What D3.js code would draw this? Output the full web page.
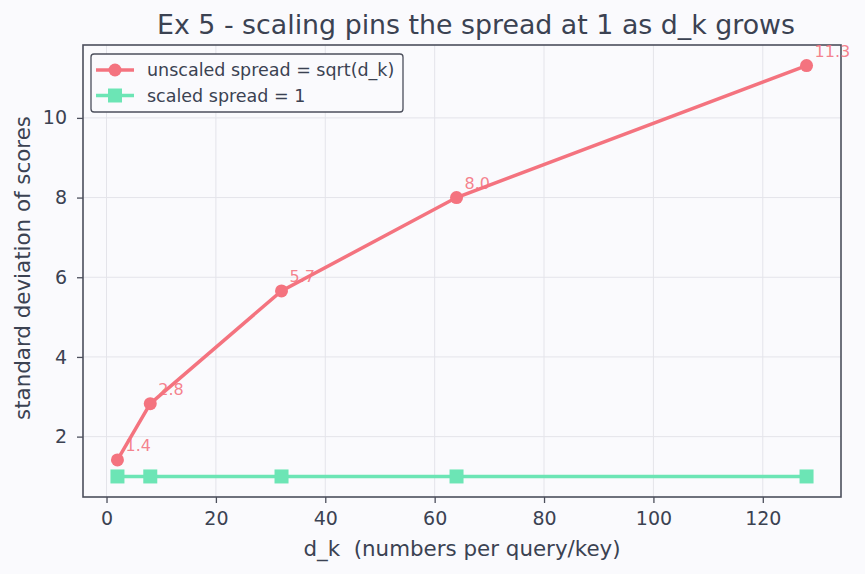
<!DOCTYPE html>
<html><head><meta charset="utf-8">
<script src="https://cdn.jsdelivr.net/npm/d3@7"></script>
<style>body{margin:0;background:#fafafd;}svg{display:block;font-family:"DejaVu Sans",sans-serif;}</style>
</head><body><svg id="c" width="865" height="574"></svg>
<script>
const dk = [2, 8, 32, 64, 128];
const unscaled = [1.414, 2.828, 5.657, 8.0, 11.314];
const scaled = [1, 1, 1, 1, 1];
const labels = ["1.4", "2.8", "5.7", "8.0", "11.3"];
const xTicks = [0, 20, 40, 60, 80, 100, 120];
const yTicks = [2, 4, 6, 8, 10];

const svg = d3.select("#c");
const W = 865, H = 574;
const L = 83, R = 841, T = 45, B = 497;
const textC = "#3b4252", spineC = "#4c4f5c", red = "#f4737f", green = "#6ce5b5";
svg.append("rect").attr("width", W).attr("height", H).attr("fill", "#fafafd");

const xmin = 2, xmax = 128, xm = (xmax - xmin) * 0.05;
const ymin = 1, ymax = 11.314, ym = (ymax - ymin) * 0.05;
const x = d3.scaleLinear().domain([xmin - xm, xmax + xm]).range([L, R]);
const y = d3.scaleLinear().domain([ymin - ym, ymax + ym]).range([B, T]);

const g = svg.append("g");
g.selectAll(".gx").data(xTicks).join("line").attr("x1", d => x(d)).attr("x2", d => x(d))
  .attr("y1", T).attr("y2", B).attr("stroke", "#e4e4ea").attr("stroke-width", 1);
g.selectAll(".gy").data(yTicks).join("line").attr("y1", d => y(d)).attr("y2", d => y(d))
  .attr("x1", L).attr("x2", R).attr("stroke", "#e4e4ea").attr("stroke-width", 1);

const xa = svg.append("g").attr("transform", `translate(0,${B})`)
  .call(d3.axisBottom(x).tickValues(xTicks).tickSize(6).tickPadding(9).tickFormat(d3.format("d")));
const ya = svg.append("g").attr("transform", `translate(${L},0)`)
  .call(d3.axisLeft(y).tickValues(yTicks).tickSize(6).tickPadding(10).tickFormat(d3.format("d")));
[xa, ya].forEach(a => {
  a.select(".domain").remove();
  a.selectAll("line").attr("stroke", spineC).attr("stroke-width", 1.3);
  a.selectAll("text").attr("fill", textC).attr("font-size", 19).attr("font-family", "DejaVu Sans");
});
svg.append("rect").attr("x", L).attr("y", T).attr("width", R - L).attr("height", B - T)
  .attr("fill", "none").attr("stroke", spineC).attr("stroke-width", 1.6);

const line = d3.line().x(d => x(d[0])).y(d => y(d[1]));
const sData = dk.map((d, i) => [d, scaled[i]]);
const uData = dk.map((d, i) => [d, unscaled[i]]);
svg.append("path").datum(sData).attr("d", line).attr("fill", "none").attr("stroke", green).attr("stroke-width", 3.5);
svg.selectAll(".sq").data(sData).join("rect").attr("x", d => x(d[0]) - 7).attr("y", d => y(d[1]) - 7)
  .attr("width", 14).attr("height", 14).attr("fill", green);
svg.append("path").datum(uData).attr("d", line).attr("fill", "none").attr("stroke", red).attr("stroke-width", 3.5);
svg.selectAll(".ci").data(uData).join("circle").attr("cx", d => x(d[0])).attr("cy", d => y(d[1]))
  .attr("r", 6.5).attr("fill", red);
svg.selectAll(".lb").data(uData).join("text").attr("x", d => x(d[0]) + 8).attr("y", d => y(d[1]) - 9)
  .attr("fill", red).attr("fill-opacity", 0.9).attr("font-size", 16).text((d, i) => labels[i]);

svg.append("text").attr("x", 476).attr("y", 34).attr("text-anchor", "middle")
  .attr("fill", textC).attr("font-size", 26.8).text("Ex 5 - scaling pins the spread at 1 as d_k grows");
svg.append("text").attr("x", 462).attr("y", 556).attr("text-anchor", "middle")
  .attr("fill", textC).attr("font-size", 21.4).attr("xml:space", "preserve").text("d_k  (numbers per query/key)");
svg.append("text").attr("transform", `translate(30,${(T + B) / 2 - 3}) rotate(-90)`).attr("text-anchor", "middle")
  .attr("fill", textC).attr("font-size", 21.4).text("standard deviation of scores");

const lg = svg.append("g");
lg.append("rect").attr("x", 91).attr("y", 54).attr("width", 312).attr("height", 58).attr("rx", 3)
  .attr("fill", "#fafafd").attr("stroke", spineC).attr("stroke-width", 1.3);
const items = [{c: red, t: "unscaled spread = sqrt(d_k)", m: "c"}, {c: green, t: "scaled spread = 1", m: "s"}];
items.forEach((it, i) => {
  const yy = 70 + i * 25.5;
  lg.append("line").attr("x1", 96).attr("x2", 134).attr("y1", yy).attr("y2", yy).attr("stroke", it.c).attr("stroke-width", 3.5);
  if (it.m === "c") lg.append("circle").attr("cx", 115).attr("cy", yy).attr("r", 6.5).attr("fill", it.c);
  else lg.append("rect").attr("x", 108).attr("y", yy - 7).attr("width", 14).attr("height", 14).attr("fill", it.c);
  lg.append("text").attr("x", 147).attr("y", yy + 6).attr("fill", textC).attr("font-size", 17.5).text(it.t);
});
</script></body></html>
